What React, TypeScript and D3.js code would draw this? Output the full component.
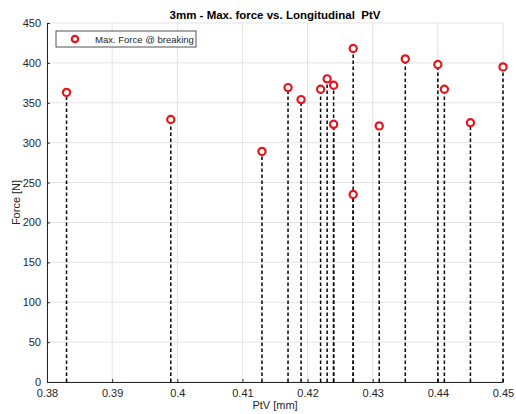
import React, { useEffect, useRef } from "react";
import * as d3 from "d3";

// PtV [mm] for each sample, and the max force at breaking [N]
const ptv = [0.383, 0.399, 0.413, 0.417, 0.419, 0.422, 0.423, 0.424, 0.424, 0.427, 0.427, 0.431, 0.435, 0.44, 0.441, 0.445, 0.45];
const force = [363, 329, 289, 369, 354, 367, 380, 372, 323, 418, 235, 321, 405, 398, 367, 325, 395];

const xTicks = [0.38, 0.39, 0.4, 0.41, 0.42, 0.43, 0.44, 0.45];
const yTicks = [0, 50, 100, 150, 200, 250, 300, 350, 400, 450];

const title = "3mm - Max. force vs. Longitudinal  PtV";
const xLabel = "PtV [mm]";
const yLabel = "Force [N]";
const legendLabel = "Max. Force @ breaking";

export default function App() {
  const ref = useRef<SVGSVGElement>(null);

  useEffect(() => {
    const width = 516;
    const height = 414;
    const margin = { top: 23, right: 13, bottom: 32, left: 47 };
    const innerWidth = width - margin.left - margin.right;
    const innerHeight = height - margin.top - margin.bottom;
    const font = "'Liberation Sans', Arial, sans-serif";

    const svg = d3.select(ref.current).attr("width", width).attr("height", height);
    svg.selectAll("*").remove();

    svg.append("rect").attr("width", width).attr("height", height).attr("fill", "#fff");

    const g = svg.append("g").attr("transform", `translate(${margin.left},${margin.top})`);

    const x = d3.scaleLinear().domain([0.38, 0.45]).range([0, innerWidth]);
    const y = d3.scaleLinear().domain([0, 450]).range([innerHeight, 0]);

    // grid
    g.append("g").selectAll("line").data(xTicks).join("line")
      .attr("x1", d => x(d)).attr("x2", d => x(d))
      .attr("y1", 0).attr("y2", innerHeight)
      .attr("stroke", "#e3e3e3").attr("stroke-width", 1);
    g.append("g").selectAll("line").data(yTicks).join("line")
      .attr("x1", 0).attr("x2", innerWidth)
      .attr("y1", d => y(d)).attr("y2", d => y(d))
      .attr("stroke", "#e3e3e3").attr("stroke-width", 1);

    // axes
    const xAxis = d3.axisBottom(x).tickValues(xTicks).tickSize(-3).tickSizeOuter(0)
      .tickFormat(d => String(+d));
    const yAxis = d3.axisLeft(y).tickValues(yTicks).tickSize(-3).tickSizeOuter(0);

    const gx = g.append("g").attr("transform", `translate(0,${innerHeight})`).call(xAxis);
    const gy = g.append("g").call(yAxis);
    [gx, gy].forEach(a => {
      a.select(".domain").attr("stroke", "#262626").attr("stroke-width", 1);
      a.selectAll(".tick line").attr("stroke", "#262626");
      a.selectAll(".tick text").attr("fill", "#262626").attr("font-family", font).attr("font-size", 11);
    });
    gx.selectAll(".tick text").attr("y", 7).attr("dy", "0.71em");
    gy.selectAll(".tick text").attr("x", -6);

    // stems
    g.append("g").selectAll("line").data(ptv).join("line")
      .attr("x1", d => x(d)).attr("x2", d => x(d))
      .attr("y1", innerHeight).attr("y2", (d, i) => y(force[i]))
      .attr("stroke", "#000").attr("stroke-width", 1.5).attr("stroke-dasharray", "3.5,2.5");

    // markers
    g.append("g").selectAll("circle").data(ptv).join("circle")
      .attr("cx", d => x(d)).attr("cy", (d, i) => y(force[i]))
      .attr("r", 3.6).attr("fill", "#fff").attr("stroke", "#e8141c").attr("stroke-width", 2.2);

    // legend
    const lg = g.append("g").attr("transform", "translate(9,8)");
    lg.append("rect").attr("width", 140).attr("height", 16)
      .attr("fill", "#fff").attr("stroke", "#262626").attr("stroke-width", 0.8);
    lg.append("circle").attr("cx", 19).attr("cy", 8).attr("r", 3.2)
      .attr("fill", "#fff").attr("stroke", "#e8141c").attr("stroke-width", 2.2);
    lg.append("text").attr("x", 39).attr("y", 12).attr("font-family", font).attr("font-size", 9.5)
      .attr("fill", "#262626").text(legendLabel);

    // title and labels
    svg.append("text").attr("x", margin.left + innerWidth / 2).attr("y", 19)
      .attr("text-anchor", "middle").attr("font-family", font).attr("font-size", 11.5)
      .attr("font-weight", "bold").attr("fill", "#000").style("white-space", "pre").text(title);

    svg.append("text").attr("x", margin.left + innerWidth / 2).attr("y", 409)
      .attr("text-anchor", "middle").attr("font-family", font).attr("font-size", 11)
      .attr("fill", "#262626").text(xLabel);

    svg.append("text").attr("transform", "rotate(-90)")
      .attr("x", -(margin.top + innerHeight / 2)).attr("y", 20)
      .attr("text-anchor", "middle").attr("font-family", font).attr("font-size", 11)
      .attr("fill", "#262626").text(yLabel);
  }, []);

  return <svg ref={ref} style={{ position: "absolute", top: 0, left: 0 }} />;
}
